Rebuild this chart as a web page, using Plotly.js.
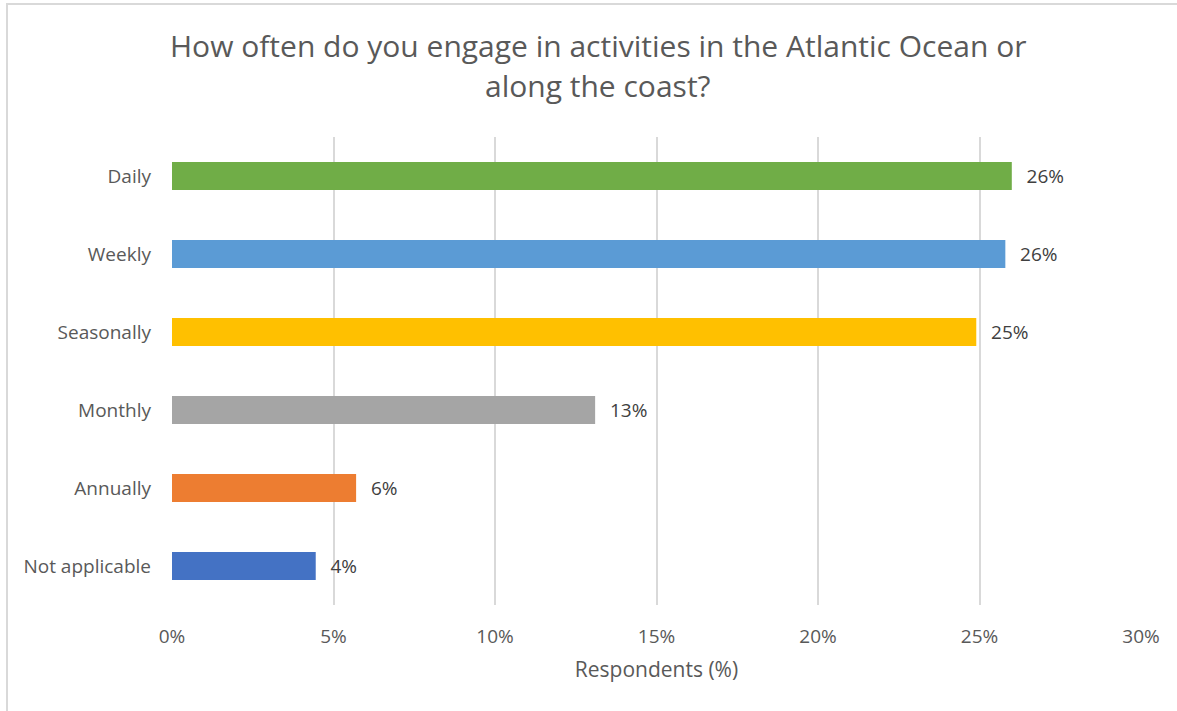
<!DOCTYPE html>
<html>
<head>
<meta charset="utf-8">
<script src="https://cdn.plot.ly/plotly-3.0.1.min.js"></script>
<style>
html,body{margin:0;padding:0;background:#fff;}
#chart{width:1177px;height:711px;}
#frame{position:absolute;left:6px;top:3px;width:1200px;height:740px;border:2px solid #d9d9d9;pointer-events:none;}
</style>
</head>
<body>
<div id="chart"></div>
<div id="frame"></div>
<script>
const categories = ["Daily", "Weekly", "Seasonally", "Monthly", "Annually", "Not applicable"];
const values = [26.0, 25.8, 24.9, 13.1, 5.7, 4.45];
const barColors = ["#70AD47", "#5B9BD5", "#FFC000", "#A5A5A5", "#ED7D31", "#4472C4"];
const xTickVals = [0, 5, 10, 15, 20, 25, 30];
const xTickText = ["0%", "5%", "10%", "15%", "20%", "25%", "30%"];
const titleLines = ["How often do you engage in activities in the Atlantic Ocean or", "along the coast?"];

const FONT = "'Open Sans', sans-serif";

const trace = {
  type: "bar",
  orientation: "h",
  y: categories,
  x: values,
  marker: {color: barColors},
  width: 0.36,
  text: values.map(v => "\u00a0\u00a0\u200a" + Math.round(v) + "%"),
  textposition: "outside",
  cliponaxis: false,
  textfont: {family: FONT, size: 19, color: "#404040"},
  hoverinfo: "skip"
};

const layout = {
  width: 1177,
  height: 711,
  margin: {l: 172, r: 36, t: 137, b: 106},
  paper_bgcolor: "#ffffff",
  plot_bgcolor: "#ffffff",
  showlegend: false,
  font: {family: FONT, color: "#595959"},
  annotations: [
    {text: titleLines[0], xref: "paper", yref: "paper", x: 0.44, y: 1.195, xanchor: "center", yanchor: "middle",
     showarrow: false, font: {family: FONT, size: 30, color: "#595959"}},
    {text: titleLines[1], xref: "paper", yref: "paper", x: 0.44, y: 1.111, xanchor: "center", yanchor: "middle",
     showarrow: false, font: {family: FONT, size: 30, color: "#595959"}}
  ],
  xaxis: {
    range: [0, 30],
    tickvals: xTickVals,
    ticktext: xTickText,
    showgrid: true,
    gridcolor: "#d9d9d9",
    gridwidth: 2,
    zeroline: false,
    showline: false,
    ticks: "",
    ticklabelstandoff: 18,
    tickfont: {family: FONT, size: 19, color: "#595959"},
    title: {text: "Respondents (%)", font: {family: FONT, size: 21, color: "#595959"}, standoff: 14},
    fixedrange: true
  },
  yaxis: {
    type: "category",
    categoryorder: "array",
    categoryarray: categories,
    autorange: "reversed",
    showgrid: false,
    zeroline: false,
    showline: false,
    ticks: "",
    ticklabelstandoff: 20,
    tickfont: {family: FONT, size: 19, color: "#595959"},
    fixedrange: true
  },
  bargap: 0.64
};

Plotly.newPlot("chart", [trace], layout, {displayModeBar: false, staticPlot: true});
</script>
</body>
</html>
